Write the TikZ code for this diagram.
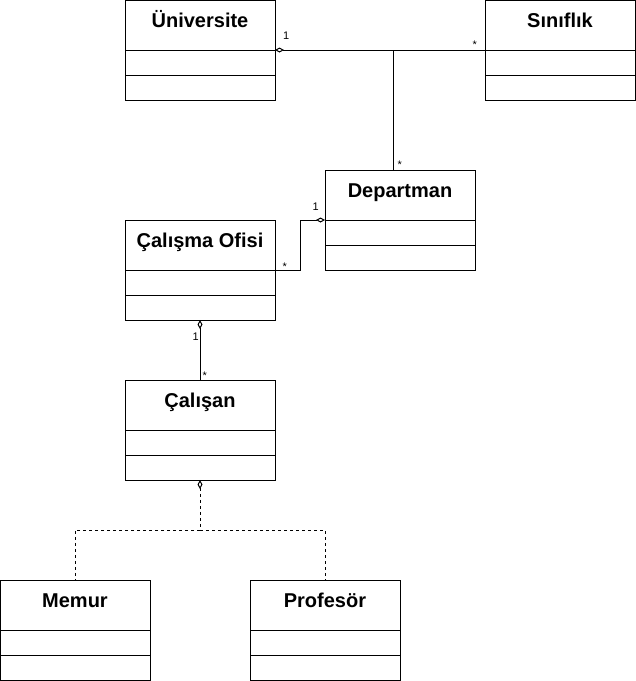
\documentclass[tikz,border=0pt]{standalone}
\usepackage{fontspec}
\setmainfont{Liberation Sans}
\usetikzlibrary{arrows.meta,calc}
\newcommand{\umlclass}[4]{%
  \node[clsbox] (#1) at (#2+75,#3+50) {};
  \draw[line width=1pt] ([yshift=-50pt]#1.north west) -- ([yshift=-50pt]#1.north east);
  \draw[line width=1pt] ([yshift=-75pt]#1.north west) -- ([yshift=-75pt]#1.north east);
  \node[clstitle] (#1-t) at ([yshift=-27pt]#1.north) {#4};
}
\tikzset{
  clsbox/.style={draw, line width=1pt, minimum width=150pt, minimum height=100pt, inner sep=0pt, outer sep=0pt},
  clstitle/.style={anchor=base, inner sep=0pt, font=\bfseries\fontsize{20}{24}\selectfont},
  mult/.style={anchor=base west, inner sep=0pt, font=\fontsize{11}{13}\selectfont},
  conn/.style={line width=1pt},
  agg/.style={conn, {Diamond[open, length=9pt, width=5pt]}-},
  dep/.style={conn, dash pattern=on 3pt off 3pt},
}
\begin{document}
\begin{tikzpicture}[x=1pt,y=-1pt]
\useasboundingbox (0,0) rectangle (636,681);
\umlclass{uni}{125}{0}{Üniversite}
\umlclass{sin}{485}{0}{Sınıflık}
\umlclass{dept}{325}{170}{Departman}
\umlclass{ofis}{125}{220}{Çalışma Ofisi}
\umlclass{cal}{125}{380}{Çalışan}
\umlclass{mem}{0}{580}{Memur}
\umlclass{prof}{250}{580}{Profesör}
% Universite - Sinflik
\draw[agg] (uni.east) -- (sin.west);
\coordinate (j) at (393,50);
\draw[conn] (j) -- (j |- dept.north);
\node[mult] (m1) at (283,39.5) {1};
\node[mult] (m2) at (472.5,48.5) {*};
\node[mult] (m3) at (397.5,168) {*};
% Departman - Calisma Ofisi
\draw[agg] (dept.west) -- ++(-25,0) |- (ofis.east);
\node[mult] (m4) at (312.5,210) {1};
\node[mult] (m5) at (282.5,270) {*};
% Calisma Ofisi - Calisan
\draw[agg] (ofis.south) -- (cal.north);
\node[mult] (m6) at (192.5,340) {1};
\node[mult] (m7) at (202.5,379) {*};
% Calisan - Memur/Profesor
\draw[dep, {Diamond[open, length=9pt, width=5pt]}-] (cal.south) -- ++(0,50) coordinate (k) -| (mem.north);
\draw[dep] (k) -| (prof.north);
\end{tikzpicture}
\end{document}
